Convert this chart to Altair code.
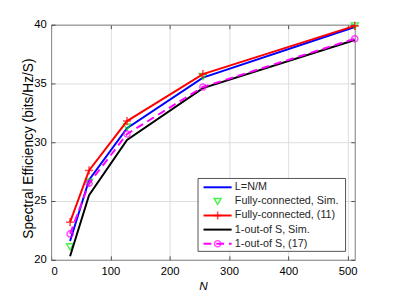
import altair as alt
import pandas as pd

# ---- data ----
N = [32, 64, 128, 256, 512]
blue = [21.6, 26.8, 31.2, 35.5, 39.8]      # L=N/M
green = [21.1, 26.6, 31.3, 35.6, 39.9]     # Fully-connected, Sim.
red = [23.2, 27.6, 31.8, 35.8, 39.9]       # Fully-connected, (11)
black = [20.3, 25.5, 30.2, 34.6, 38.7]     # 1-out-of S, Sim.
magenta = [22.2, 26.5, 30.7, 34.7, 38.8]   # 1-out-of S, (17)

legend_labels = ["L=N/M", "Fully-connected, Sim.", "Fully-connected, (11)",
                 "1-out-of S, Sim.", "1-out-of S, (17)"]
x_ticks = [0, 100, 200, 300, 400, 500]
y_ticks = [20, 25, 30, 35, 40]

W, H = 310, 240
FONT = "Liberation Sans"
AX = "#262626"
PLUS = "M-1,0L1,0M0,-1L0,1"

df = pd.DataFrame({"N": N, "blue": blue, "green": green, "red": red,
                   "black": black, "magenta": magenta})

xs = alt.Scale(domain=[0, 512], nice=False, zero=False)
ys = alt.Scale(domain=[20, 40], nice=False, zero=False)

base = alt.Chart(df)

main_x_axis = alt.Axis(values=x_ticks, grid=True, ticks=False, domain=True,
                       labelFontSize=11.5, labelPadding=6, title="N",
                       titleFontStyle="italic", titleFontWeight="normal",
                       titleFontSize=12, titlePadding=4)
main_y_axis = alt.Axis(values=y_ticks, grid=True, ticks=False, domain=True,
                       labelFontSize=11.5, labelPadding=5,
                       title="Spectral Efficiency (bits/Hz/S)",
                       titleFontWeight="normal", titleFontSize=14,
                       titleX=-16, titleY=126)

blue_line = base.mark_line(color="#0000ff", strokeWidth=2).encode(
    x=alt.X("N:Q", scale=xs, axis=main_x_axis),
    y=alt.Y("blue:Q", scale=ys, axis=main_y_axis))

green_pts = base.mark_point(shape="triangle-down", filled=False, color="#00ee00",
                            strokeWidth=1.5, size=50).encode(
    x=alt.X("N:Q", scale=xs, axis=None), y=alt.Y("green:Q", scale=ys, axis=None))

red_line = base.mark_line(color="#ff0000", strokeWidth=2).encode(
    x=alt.X("N:Q", scale=xs, axis=None), y=alt.Y("red:Q", scale=ys, axis=None))
red_pts = base.mark_point(shape=PLUS, filled=False, color="#ff0000",
                          strokeWidth=1.6, size=70).encode(
    x=alt.X("N:Q", scale=xs, axis=None), y=alt.Y("red:Q", scale=ys, axis=None))

black_line = base.mark_line(color="#000000", strokeWidth=2).encode(
    x=alt.X("N:Q", scale=xs, axis=None), y=alt.Y("black:Q", scale=ys, axis=None))

mag_line = base.mark_line(color="#ff00ff", strokeWidth=2, strokeDash=[8, 5]).encode(
    x=alt.X("N:Q", scale=xs, axis=None), y=alt.Y("magenta:Q", scale=ys, axis=None))
mag_pts = base.mark_point(shape="circle", filled=False, color="#ff00ff",
                          strokeWidth=1.5, size=40).encode(
    x=alt.X("N:Q", scale=xs, axis=None), y=alt.Y("magenta:Q", scale=ys, axis=None))

# inward ticks on all four sides
tick_common = dict(labels=False, grid=False, title=None, ticks=True, tickSize=4,
                   tickColor=AX, tickWidth=0.8)
t1 = base.mark_point(opacity=0).encode(
    x=alt.X("N:Q", scale=xs, axis=alt.Axis(orient="top", offset=-H, domain=False,
                                            values=x_ticks, **tick_common)),
    y=alt.Y("blue:Q", scale=ys, axis=alt.Axis(orient="right", offset=-W, domain=False,
                                               values=y_ticks, **tick_common)))
t2 = base.mark_point(opacity=0).encode(
    x=alt.X("N:Q", scale=xs, axis=alt.Axis(orient="bottom", offset=-H, domain=True,
                                            values=x_ticks, **tick_common)),
    y=alt.Y("blue:Q", scale=ys, axis=alt.Axis(orient="left", offset=-W, domain=True,
                                               values=y_ticks, **tick_common)))

# legend box
one = alt.Chart(pd.DataFrame({"a": [0]}))
legend_layers = [one.mark_rect(fill="white", stroke=AX, strokeWidth=0.8).encode(
    x=alt.value(150), x2=alt.value(300.6), y=alt.value(157), y2=alt.value(231.4))]
colors = ["#0000ff", "#00ee00", "#ff0000", "#000000", "#ff00ff"]
for i, lab in enumerate(legend_labels):
    yy = 166 + 14.4 * i
    c = colors[i]
    if i != 1:
        kw = dict(color=c, strokeWidth=2)
        if i == 4:
            kw["strokeDash"] = [8, 5]
        legend_layers.append(one.mark_rule(**kw).encode(
            x=alt.value(155.6), x2=alt.value(184.3), y=alt.value(yy)))
    if i == 1:
        legend_layers.append(one.mark_point(shape="triangle-down", filled=False, color=c,
                                            strokeWidth=1.5, size=50).encode(
            x=alt.value(170), y=alt.value(yy)))
    if i == 2:
        legend_layers.append(one.mark_point(shape=PLUS, filled=False, color=c,
                                            strokeWidth=1.6, size=70).encode(
            x=alt.value(170), y=alt.value(yy)))
    if i == 4:
        legend_layers.append(one.mark_point(shape="circle", filled=False, color=c,
                                            strokeWidth=1.5, size=40).encode(
            x=alt.value(170), y=alt.value(yy)))
    legend_layers.append(one.mark_text(align="left", baseline="middle", font=FONT,
                                       fontSize=11, color=AX).encode(
        x=alt.value(187.6), y=alt.value(yy), text=alt.value(lab)))

chart = alt.layer(
    blue_line, green_pts, red_line, red_pts, black_line, mag_line, mag_pts,
    t1, t2, *legend_layers
).resolve_axis(x="independent", y="independent").properties(
    width=W, height=H,
    autosize=alt.AutoSizeParams(type="none"),
    padding={"left": 44, "top": 14, "right": 37, "bottom": 37},
).configure_view(stroke=None).configure_axis(
    labelFont=FONT, titleFont=FONT, labelColor=AX, titleColor=AX,
    domainColor=AX, domainWidth=0.8, gridColor="#e3e3e3", gridWidth=0.8,
).configure(background="white")

chart.save("out.html", embed_options={"renderer": "svg", "actions": False})
